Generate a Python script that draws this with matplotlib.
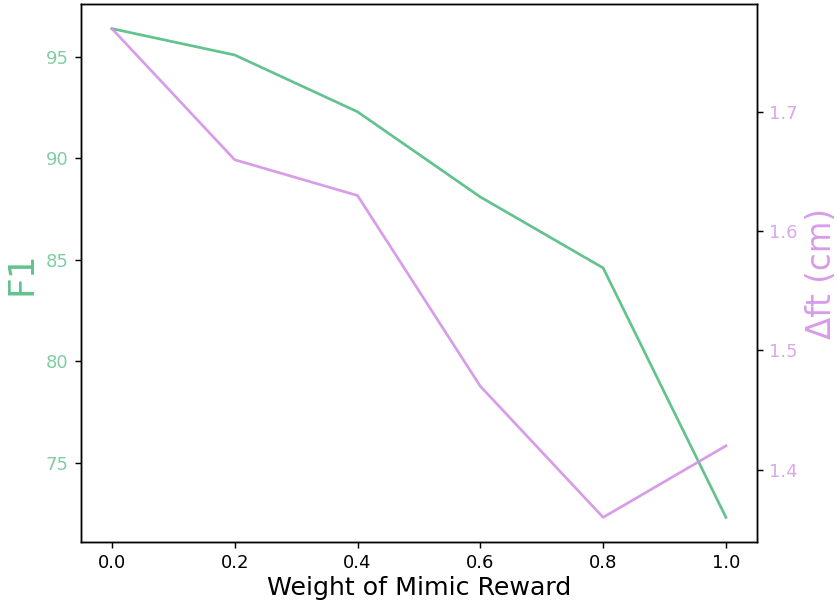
import matplotlib
matplotlib.use("Agg")
import matplotlib.pyplot as plt

# values
weights = [0.0, 0.2, 0.4, 0.6, 0.8, 1.0]
f1 = [96.4, 95.1, 92.3, 88.1, 84.6, 72.3]
delta_ft = [1.77, 1.66, 1.63, 1.47, 1.36, 1.42]

F1_COLOR = "mediumseagreen"
DFT_COLOR = "#d392e6"


def main():
    fig, ax1 = plt.subplots(figsize=(837 / 130, 600 / 130), dpi=130)
    fig.subplots_adjust(left=0.097, right=0.904, bottom=0.097, top=0.993)

    ax1.plot(weights, f1, color=F1_COLOR, alpha=0.8, lw=1.5)
    ax1.set_xlabel("Weight of Mimic Reward", fontsize=14, labelpad=2)
    ax1.set_ylabel("F1", fontsize=20, color=F1_COLOR, alpha=0.8)
    ax1.tick_params(axis="y", labelcolor=F1_COLOR)
    for lbl in ax1.get_yticklabels():
        lbl.set_alpha(0.65)

    ax2 = ax1.twinx()
    ax2.plot(weights, delta_ft, color=DFT_COLOR, alpha=0.9, lw=1.5)
    ax2.set_ylabel("\u0394ft (cm)", fontsize=18, color=DFT_COLOR, alpha=0.9)
    ax2.tick_params(axis="y", labelcolor=DFT_COLOR)
    for lbl in ax2.get_yticklabels():
        lbl.set_alpha(0.8)

    fig.savefig("out.png", dpi=130)


if __name__ == "__main__":
    main()
